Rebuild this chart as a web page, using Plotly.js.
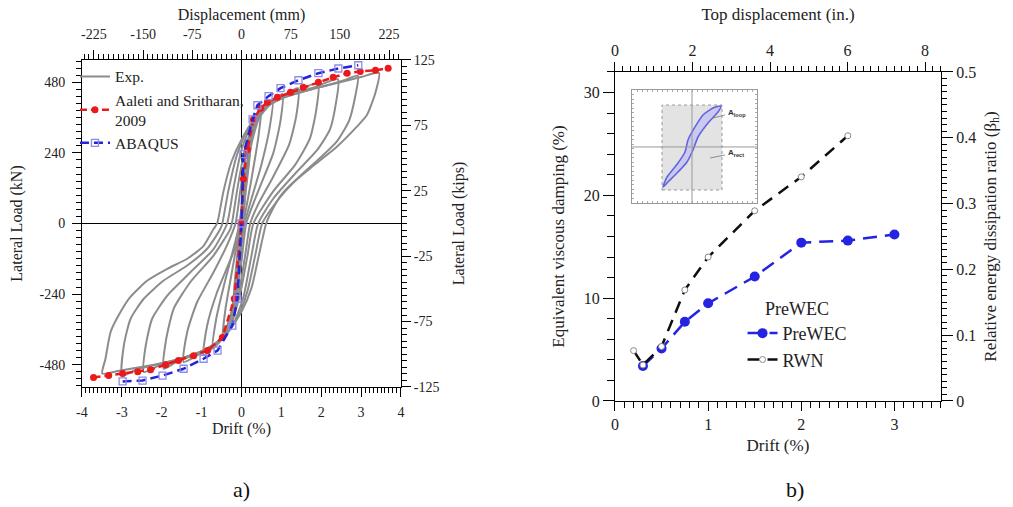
<!DOCTYPE html>
<html><head><meta charset="utf-8">
<script src="https://cdn.plot.ly/plotly-3.0.1.min.js"></script>
<style>html,body{margin:0;padding:0;background:#fff}#chart{width:1013px;height:507px}</style>
</head><body><div id="chart"></div>
<script>
// ---------- Panel a) : hysteresis ----------
const driftTicks = [-4,-3,-2,-1,0,1,2,3,4];
const driftTickText = ['-4','-3','-2','-1','0','1','2','3','4'];
const mmTicks = [-225,-150,-75,0,75,150,225];
const mmTickText = ['-225','-150','-75','0','75','150','225'];
const kNTicks = [-480,-240,0,240,480];
const kNTickText = ['-480','-240','0','240','480'];
const kipsTicks = [-125,-75,-25,25,75,125];
const kipsTickText = ['-125','-75','-25','25','75','125'];

// experimental loops (drift %, load kN), one per drift amplitude
const exp025D = [0.25,0.2,0.1,0.03,-0.05,-0.15,-0.22,-0.18,-0.1,-0.03,0.05,0.15,0.25];
const exp025L = [320,220,100,0,-150,-290,-330,-220,-100,0,150,270,320];
const exp050D = [0.5,0.42,0.25,0.05,-0.1,-0.25,-0.48,-0.4,-0.22,-0.03,0.1,0.25,0.5];
const exp050L = [392,290,150,0,-150,-300,-395,-290,-150,0,150,300,392];
const exp075D = [0.78,0.7,0.5,0.2,0.08,-0.05,-0.22,-0.45,-0.72,-0.64,-0.42,-0.15,-0.05,0.08,0.22,0.45,0.78];
const exp075L = [420,320,200,60,0,-130,-290,-385,-425,-330,-200,-60,0,130,270,370,420];
const exp100D = [1.03,0.98,0.8,0.45,0.12,0.0,-0.18,-0.45,-0.7,-0.95,-0.86,-0.61,-0.2,0.02,0.12,0.25,0.45,0.75,1.03];
const exp100L = [440,350,240,120,0,-130,-280,-380,-420,-448,-347,-233,-97,0,140,270,360,410,440];
const exp150D = [1.42,1.38,1.2,0.8,0.4,0.22,0.08,-0.1,-0.35,-0.7,-1.1,-1.45,-1.36,-1.11,-0.7,-0.35,-0.15,-0.02,0.15,0.4,0.75,1.1,1.42];
const exp150L = [460,370,270,160,60,0,-120,-260,-365,-420,-448,-471,-369,-267,-166,-70,0,120,260,360,410,440,460];
const exp200D = [1.92,1.88,1.72,1.35,0.8,0.3,0.15,-0.05,-0.3,-0.7,-1.2,-1.6,-1.95,-1.9,-1.7,-1.28,-0.7,-0.28,-0.24,-0.1,0.1,0.4,0.8,1.3,1.92];
const exp200L = [477,390,290,200,110,0,-110,-250,-350,-415,-448,-468,-494,-403,-290,-199,-109,-19,0,120,260,365,415,445,477];
const exp250D = [2.42,2.37,2.22,1.9,1.35,0.8,0.42,0.25,0.05,-0.2,-0.6,-1.1,-1.7,-2.1,-2.45,-2.4,-2.24,-1.86,-1.28,-0.7,-0.36,-0.2,0.0,0.3,0.7,1.2,1.8,2.42];
const exp250L = [490,410,320,250,170,85,0,-110,-250,-340,-405,-440,-468,-485,-505,-415,-324,-245,-166,-87,0,120,250,350,405,438,462,490];
const exp300D = [2.92,2.85,2.7,2.4,1.95,1.5,1.1,0.75,0.52,0.35,0.15,-0.1,-0.5,-1.0,-1.6,-2.2,-2.6,-2.99,-2.95,-2.78,-2.45,-1.95,-1.36,-0.86,-0.53,-0.48,-0.33,-0.12,0.15,0.5,1.0,1.6,2.2,2.6,2.92];
const exp300L = [502,430,350,280,220,165,110,50,0,-105,-230,-320,-395,-435,-462,-482,-495,-516,-415,-324,-256,-194,-143,-86,-19,0,110,230,320,385,425,450,472,488,502];
const exp350D = [3.45,3.35,3.15,2.9,2.4,1.8,1.3,0.98,0.75,0.62,0.45,0.25,0.0,-0.4,-0.9,-1.5,-2.1,-2.6,-3.1,-3.49,-3.41,-3.28,-3.03,-2.78,-2.36,-1.86,-1.36,-0.95,-0.7,-0.61,-0.45,-0.25,0.0,0.3,0.7,1.2,1.8,2.4,3.0,3.45];
const exp350L = [512,440,370,330,262,196,140,94,40,0,-100,-220,-300,-380,-428,-458,-478,-490,-502,-510,-460,-368,-300,-249,-194,-154,-120,-76,-19,0,110,210,285,350,405,435,458,478,498,512];

const aaletiDrift = [-3.71,-3.33,-2.98,-2.6,-2.28,-1.9,-1.58,-1.2,-0.85,-0.48,-0.18,0,0.05,0.15,0.3,0.48,0.65,0.9,1.23,1.55,1.93,2.3,2.65,2.98,3.36,3.68];
const aaletiLoad = [-524,-517,-510,-504,-497,-480,-466,-450,-432,-388,-256,0,151,252,354,392,412,429,446,463,480,497,511,517,521,528];
const abaqusDrift = [-2.98,-2.48,-1.98,-1.45,-0.95,-0.6,-0.23,-0.1,0,0.05,0.28,0.4,0.68,0.98,1.43,1.93,2.43,2.93];
const abaqusLoad = [-537,-534,-517,-494,-460,-432,-347,-256,0,236,354,402,433,460,487,511,527,538];

// ---------- Panel b) : damping ----------
const preDrift = [0.3,0.5,0.75,1.0,1.5,2.0,2.5,3.0];
const preDamp = [3.4,5.1,7.7,9.5,12.1,15.4,15.6,16.2];
const rwnDrift = [0.2,0.3,0.5,0.75,1.0,1.5,2.0,2.5];
const rwnDamp = [4.9,3.5,5.3,10.8,14.0,18.5,21.8,25.8];
// inset loop (normalised inset coordinates)
const insetLoopX = [0.248,0.28,0.368,0.424,0.448,0.504,0.568,0.648,0.712,0.688,0.608,0.528,0.488,0.44,0.368,0.288,0.248];
const insetLoopY = [0.142,0.23,0.354,0.451,0.558,0.673,0.779,0.841,0.858,0.805,0.708,0.584,0.469,0.363,0.274,0.186,0.142];

const FONT = 'Liberation Serif, Times New Roman, serif';
const expLoops = [
  [exp025D,exp025L],[exp050D,exp050L],[exp075D,exp075L],[exp100D,exp100L],
  [exp150D,exp150L],[exp200D,exp200L],[exp250D,exp250L],[exp300D,exp300L],[exp350D,exp350L]
];
const traces = [];
expLoops.forEach((p,i)=>{
  traces.push({x:p[0], y:p[1], xaxis:'x', yaxis:'y', mode:'lines', name:'Exp.',
    legendgroup:'exp', showlegend:i===0, legend:'legend',
    line:{color:'rgb(140,140,140)', width:2, shape:'spline', smoothing:0.6}, hoverinfo:'skip'});
});
traces.push({x:aaletiDrift, y:aaletiLoad, xaxis:'x', yaxis:'y', mode:'lines+markers',
  name:'Aaleti and Sritharan,<br>2009', legend:'legend',
  line:{color:'rgb(235,25,25)', width:2.5, dash:'7px,4px'},
  marker:{symbol:'circle', size:7, color:'rgb(235,25,25)'}});
traces.push({x:abaqusDrift, y:abaqusLoad, xaxis:'x', yaxis:'y', mode:'lines+markers',
  name:'ABAQUS', legend:'legend',
  line:{color:'rgb(35,35,215)', width:2.5, dash:'9px,5px'},
  marker:{symbol:'square-open', size:7, color:'rgb(140,140,235)', line:{width:1.3}}});

traces.push({x:insetLoopX, y:insetLoopY, xaxis:'x5', yaxis:'y5', mode:'lines', fill:'toself',
  fillcolor:'rgba(185,185,245,0.6)', line:{color:'rgb(100,100,225)', width:1.6, shape:'spline', smoothing:0.6},
  showlegend:false, hoverinfo:'skip'});
traces.push({x:preDrift, y:preDamp, xaxis:'x3', yaxis:'y3', mode:'lines+markers', name:'PreWEC', legend:'legend2',
  line:{color:'rgb(35,35,225)', width:2.5, dash:'14px,8px'},
  marker:{symbol:'circle', size:10, color:'rgb(35,35,225)'}});
traces.push({x:rwnDrift, y:rwnDamp, xaxis:'x3', yaxis:'y3', mode:'lines+markers', name:'RWN', legend:'legend2',
  line:{color:'rgb(15,15,15)', width:2.5, dash:'12px,8px'},
  marker:{symbol:'circle', size:6, color:'#fff', line:{color:'#888', width:1}}});
[['x2','y2'],['x4','y4']].forEach(a=>{
  traces.push({x:[], y:[], xaxis:a[0], yaxis:a[1], showlegend:false, hoverinfo:'skip'});
});

const axBase = {showline:true, linecolor:'#000', linewidth:1, ticks:'outside', tickcolor:'#000',
  tickwidth:1, ticklen:9, showgrid:false, zeroline:false, tickfont:{family:FONT, size:14, color:'#222'}};
function ax(extra){ return Object.assign({}, JSON.parse(JSON.stringify(axBase)), extra); }
const minorT = (t0,dt,len)=>({tick0:t0, dtick:dt, ticks:'outside', ticklen:len, tickcolor:'#000', tickwidth:1});
const tFont = {family:FONT, size:16, color:'#222'};
const tFontB = {family:FONT, size:17, color:'#222'};

const layout = {
  width:1013, height:507, margin:{l:0,r:0,t:0,b:0}, paper_bgcolor:'#fff', plot_bgcolor:'#fff',
  font:{family:FONT, color:'#222'},
  xaxis: ax({domain:[0.0809,0.3958], anchor:'y', range:[-4,4], tickmode:'array', tickvals:driftTicks, ticktext:driftTickText,
    minor:minorT(-4,0.1,5), zeroline:true, zerolinecolor:'#000', zerolinewidth:1.4, ticklabelstandoff:3,
    title:{text:'Drift (%)', font:tFont, standoff:4}}),
  xaxis2: ax({overlaying:'x', side:'top', anchor:'y', range:[-243.2,243.2], tickmode:'array', tickvals:mmTicks, ticktext:mmTickText,
    minor:minorT(-225,7.5,5), ticklabelstandoff:5, title:{text:'Displacement (mm)', font:tFont, standoff:2}}),
  yaxis: ax({domain:[0.2367,0.8817], anchor:'x', range:[-556,556], tickmode:'array', tickvals:kNTicks, ticktext:kNTickText,
    minor:minorT(0,24,5), zeroline:true, zerolinecolor:'#000', zerolinewidth:1.4, ticklabelstandoff:4,
    title:{text:'Lateral Load (kN)', font:tFont, standoff:12}}),
  yaxis2: ax({overlaying:'y', side:'right', anchor:'x', range:[-125,125], tickmode:'array', tickvals:kipsTicks, ticktext:kipsTickText,
    minor:minorT(-125,5,5), title:{text:'Lateral Load (kips)', font:tFont, standoff:14}}),

  xaxis3: ax({domain:[0.6071,0.9289], anchor:'y3', range:[0,3.5], tick0:0, dtick:1, minor:minorT(0,0.1,6),
    tickfont:{family:FONT, size:16, color:'#222'}, title:{text:'Drift (%)', font:tFontB, standoff:6}}),
  xaxis4: ax({overlaying:'x3', side:'top', anchor:'y3', range:[0,8.41], tick0:0, dtick:2, minor:minorT(0,0.2,5),
    tickfont:{family:FONT, size:16, color:'#222'}, title:{text:'Top displacement (in.)', font:tFontB, standoff:16}}),
  yaxis3: ax({domain:[0.2091,0.858], anchor:'x3', range:[0,32], tick0:0, dtick:10, ticklen:11, minor:minorT(0,2,7),
    tickfont:{family:FONT, size:16, color:'#222'}, title:{text:'Equivalent viscous damping (%)', font:tFontB, standoff:14}}),
  yaxis4: ax({overlaying:'y3', side:'right', anchor:'x3', range:[0,0.5], tick0:0, dtick:0.1, ticklen:11, minor:minorT(0,0.01,5),
    tickfont:{family:FONT, size:16, color:'#222'}, title:{text:'Relative energy dissipation ratio (β<sub>h</sub>)', font:tFontB, standoff:8}}),

  xaxis5: {domain:[0.6239,0.7473], anchor:'y5', range:[0,1], showline:true, mirror:'ticks', linecolor:'#999', linewidth:1,
    ticks:'inside', ticklen:2, tickcolor:'#aaa', dtick:0.04, showticklabels:false, showgrid:false, zeroline:false, fixedrange:true},
  yaxis5: {domain:[0.5996,0.8225], anchor:'x5', range:[0,1], showline:true, mirror:'ticks', linecolor:'#999', linewidth:1,
    ticks:'inside', ticklen:2, tickcolor:'#aaa', dtick:0.04, showticklabels:false, showgrid:false, zeroline:false, fixedrange:true},

  legend: {x:0.074, y:0.882, xanchor:'left', yanchor:'top', bgcolor:'rgba(0,0,0,0)', itemwidth:30,
    font:{family:FONT, size:15.5, color:'#222'}, tracegroupgap:0},
  legend2: {x:0.733, y:0.425, xanchor:'left', yanchor:'top', bgcolor:'rgba(0,0,0,0)', itemwidth:30,
    title:{text:'PreWEC', side:'top center', font:{family:FONT, size:18, color:'#222'}},
    font:{family:FONT, size:18, color:'#222'}},

  shapes: [
    {type:'rect', xref:'x5', yref:'y5', x0:0.24, x1:0.72, y0:0.115, y1:0.867, fillcolor:'#e3e3e3',
      line:{color:'#999', width:1, dash:'dot'}, layer:'below'},
    {type:'line', xref:'x5', yref:'y5', x0:0.48, x1:0.48, y0:0, y1:1, line:{color:'#999', width:1}},
    {type:'line', xref:'x5', yref:'y5', x0:0, x1:1, y0:0.496, y1:0.496, line:{color:'#999', width:1}},
    {type:'line', xref:'x5', yref:'y5', x0:0.648, x1:0.744, y0:0.752, y1:0.779, line:{color:'#777', width:0.8}},
    {type:'line', xref:'x5', yref:'y5', x0:0.624, x1:0.744, y0:0.398, y1:0.425, line:{color:'#777', width:0.8}}
  ],
  annotations: [
    {xref:'x5', yref:'y5', x:0.755, y:0.80, xanchor:'left', yanchor:'middle', showarrow:false,
      text:'<b>A<sub>loop</sub></b>', font:{family:'Liberation Sans, Arial, sans-serif', size:8, color:'#333'}},
    {xref:'x5', yref:'y5', x:0.755, y:0.44, xanchor:'left', yanchor:'middle', showarrow:false,
      text:'<b>A<sub>rect</sub></b>', font:{family:'Liberation Sans, Arial, sans-serif', size:8, color:'#333'}},
    {xref:'paper', yref:'paper', x:0.238, y:0.034, xanchor:'center', yanchor:'middle', showarrow:false,
      text:'a)', font:{family:FONT, size:22, color:'#111'}},
    {xref:'paper', yref:'paper', x:0.785, y:0.034, xanchor:'center', yanchor:'middle', showarrow:false,
      text:'b)', font:{family:FONT, size:22, color:'#111'}}
  ]
};
Plotly.newPlot('chart', traces, layout, {displayModeBar:false});
</script></body></html>
